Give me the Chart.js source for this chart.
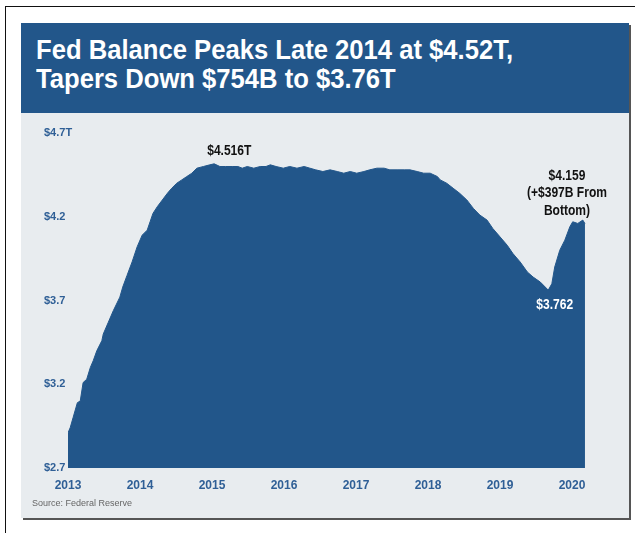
<!DOCTYPE html>
<html>
<head>
<meta charset="utf-8">
<script src="https://cdn.jsdelivr.net/npm/chart.js@4.4.1/dist/chart.umd.min.js"></script>
<style>
  html, body { margin: 0; padding: 0; background: #fff; }
  body { width: 639px; height: 533px; position: relative; overflow: hidden;
         font-family: "Liberation Sans", Arial, sans-serif; }
  #frame { position: absolute; left: 5px; top: 6px; width: 629px; height: 540px;
           border-left: 1px solid #111; border-top: 1px solid #111; }
  #panel { position: absolute; left: 21px; top: 23px; width: 608px; height: 495px;
           background: #E8ECEF; box-shadow: 2px 2px 0 #555; }
  #header { position: absolute; left: 0; top: 0; width: 608px; height: 90px; background: #22568A; }
  #title { position: absolute; left: 15px; top: 12px; color: #fff; font-weight: bold;
           font-size: 28px; line-height: 29px; white-space: nowrap;
           transform: scaleX(0.915); transform-origin: left top; }
  #wrap { position: absolute; left: 0; top: 90px; width: 608px; height: 405px; }
  #source { position: absolute; left: 11px; top: 475px; font-size: 9px; color: #666; }
</style>
</head>
<body>
<div id="frame"></div>
<div id="panel">
  <div id="header"><div id="title">Fed Balance Peaks Late 2014 at $4.52T,<br>Tapers Down $754B to $3.76T</div></div>
  <div id="wrap"><canvas id="chart" width="608" height="405"></canvas></div>
  <div id="source">Source: Federal Reserve</div>
</div>
<script>
// axis ticks
const yearTicks = [2013, 2014, 2015, 2016, 2017, 2018, 2019, 2020];
const valueTicks = [2.7, 3.2, 3.7, 4.2, 4.7];

// weekly-ish readings, decimal year -> $ trillions
const dates = [
  2013.00, 2013.03, 2013.07, 2013.13, 2013.17, 2013.21, 2013.26, 2013.31, 2013.35, 2013.40,
  2013.47, 2013.49, 2013.56, 2013.63, 2013.72, 2013.76, 2013.82, 2013.89, 2013.96, 2014.03,
  2014.10, 2014.14, 2014.18, 2014.24, 2014.31, 2014.38, 2014.44, 2014.51, 2014.58, 2014.65,
  2014.72, 2014.79, 2014.88, 2014.97, 2015.03, 2015.11, 2015.19, 2015.28, 2015.36, 2015.42,
  2015.49, 2015.58, 2015.67, 2015.75, 2015.81, 2015.89, 2015.99, 2016.08, 2016.18, 2016.28,
  2016.36, 2016.44, 2016.54, 2016.64, 2016.74, 2016.83, 2016.92, 2017.01, 2017.11, 2017.19,
  2017.29, 2017.39, 2017.47, 2017.57, 2017.67, 2017.75, 2017.85, 2017.94, 2018.03, 2018.13,
  2018.17, 2018.26, 2018.35, 2018.44, 2018.54, 2018.63, 2018.72, 2018.82, 2018.90, 2019.00,
  2019.10, 2019.18, 2019.28, 2019.38, 2019.46, 2019.56, 2019.67, 2019.72, 2019.76, 2019.83,
  2019.90, 2019.97, 2020.01, 2020.08, 2020.15, 2020.18
];
const balance = [
  2.91, 2.94, 3.00, 3.09, 3.10, 3.21, 3.23, 3.30, 3.34, 3.40,
  3.46, 3.50, 3.57, 3.64, 3.72, 3.78, 3.85, 3.93, 4.02, 4.09,
  4.12, 4.17, 4.22, 4.26, 4.30, 4.34, 4.37, 4.40, 4.42, 4.44,
  4.46, 4.49, 4.50, 4.51, 4.516, 4.50, 4.50, 4.50, 4.50, 4.49,
  4.50, 4.49, 4.50, 4.50, 4.51, 4.50, 4.49, 4.50, 4.49, 4.50,
  4.49, 4.48, 4.47, 4.48, 4.47, 4.46, 4.47, 4.46, 4.47, 4.48,
  4.49, 4.49, 4.48, 4.48, 4.48, 4.48, 4.47, 4.46, 4.46, 4.44,
  4.42, 4.40, 4.37, 4.34, 4.30, 4.25, 4.21, 4.18, 4.13, 4.08,
  4.03, 3.98, 3.93, 3.87, 3.84, 3.81, 3.762, 3.80, 3.90, 4.00,
  4.06, 4.14, 4.17, 4.16, 4.18, 4.159
];

// callouts anchored in data units
const callouts = [
  { x: 2015.24, y: 4.59, lines: ['$4.516T'], color: '#111' },
  { x: 2019.93, y: 4.445, lines: ['$4.159', '(+$397B From', 'Bottom)'], color: '#111' },
  { x: 2019.76, y: 3.675, lines: ['$3.762'], color: '#fff' }
];

const BLUE = '#22568A';
const TICK_BLUE = '#2F5F96';
const FONT = '"Liberation Sans", Arial, sans-serif';

const calloutPlugin = {
    id: 'callouts',
    afterDatasetsDraw(chart) {
        const { ctx, scales: { x, y } } = chart;
        callouts.forEach(c => {
            const px = x.getPixelForValue(c.x);
            const py = y.getPixelForValue(c.y);
            ctx.save();
            ctx.translate(px, py);
            ctx.scale(0.86, 1); // narrow face
            ctx.font = 'bold 14px ' + FONT;
            ctx.textAlign = 'center';
            ctx.textBaseline = 'middle';
            ctx.fillStyle = c.color;
            c.lines.forEach((t, i) => ctx.fillText(t, 0, i * 17.5));
            ctx.restore();
        });
    }
};

new Chart(document.getElementById('chart'), {
    type: 'line',
    data: {
        datasets: [{
            data: dates.map((d, i) => ({ x: d, y: balance[i] })),
            borderColor: BLUE, backgroundColor: BLUE, borderWidth: 1,
            fill: 'start', pointRadius: 0, tension: 0
        }]
    },
    options: {
        responsive: false, animation: false,
        layout: { padding: { left: 0, top: 20, right: 39, bottom: 0 } },
        plugins: { legend: { display: false }, tooltip: { enabled: false } },
        scales: {
            x: {
                type: 'linear', min: 2013, max: 2020.25,
                grid: { display: false, drawTicks: false }, border: { display: false },
                afterBuildTicks: s => { s.ticks = yearTicks.map(v => ({ value: v })); },
                afterFit: s => { s.height = 50; },
                ticks: { color: TICK_BLUE, font: { family: FONT, size: 12, weight: 'bold' }, padding: 10,
                         maxRotation: 0, callback: v => String(v) }
            },
            y: {
                min: 2.7, max: 4.7,
                grid: { display: false, drawTicks: false }, border: { display: false },
                afterBuildTicks: s => { s.ticks = valueTicks.map(v => ({ value: v })); },
                afterFit: s => { s.width = 47; },
                // mirrored so the wide top label can run past the axis edge
                ticks: { mirror: true, padding: -24, color: TICK_BLUE,
                         font: { family: FONT, size: 11, weight: 'bold' },
                         callback: (v, i) => i === valueTicks.length - 1 ? '$4.7T' : '$' + v.toFixed(1) }
            }
        }
    },
    plugins: [calloutPlugin]
});
</script>
</body>
</html>
